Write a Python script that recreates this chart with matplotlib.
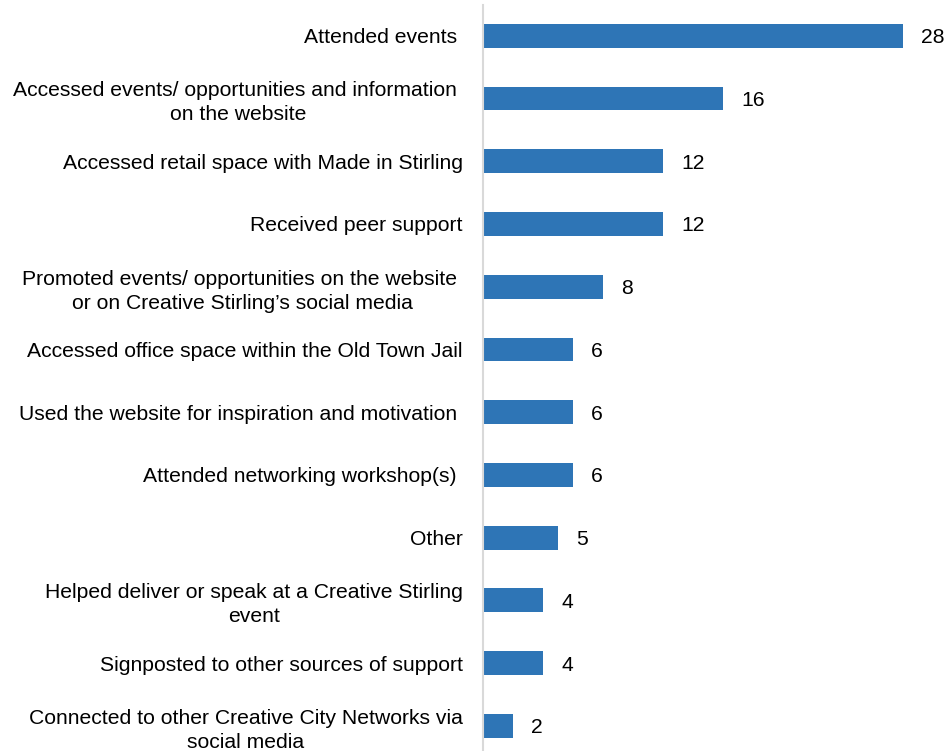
import matplotlib
matplotlib.use("Agg")
import matplotlib.pyplot as plt

categories = [
    "Attended events ",
    "Accessed events/ opportunities and information \non the website",
    "Accessed retail space with Made in Stirling",
    "Received peer support",
    "Promoted events/ opportunities on the website \nor on Creative Stirling\u2019s social media",
    "Accessed office space within the Old Town Jail",
    "Used the website for inspiration and motivation ",
    "Attended networking workshop(s) ",
    "Other",
    "Helped deliver or speak at a Creative Stirling\nevent",
    "Signposted to other sources of support",
    "Connected to other Creative City Networks via\nsocial media",
]
counts = [28, 16, 12, 12, 8, 6, 6, 6, 5, 4, 4, 2]

plt.rcParams["font.family"] = ["Liberation Sans", "DejaVu Sans"]

W, H, DPI = 946, 751, 100
fig = plt.figure(figsize=(W / DPI, H / DPI), dpi=DPI)
ax = fig.add_axes([483 / W, 0.0, 1 - 483 / W, 1 - 5 / H])

pos = list(range(len(categories)))
bars = ax.barh(pos, counts, height=0.38, color="#2e75b6")

ax.set_xlim(0, (W - 483) / 15)
ax.set_ylim(11.4, -0.49)

ax.set_yticks(pos, categories, fontsize=15.2)
for t in ax.get_yticklabels():
    t.set_multialignment("center")
    t.set_linespacing(1.32)
ax.tick_params(axis="y", length=0, pad=14.5)
ax.set_xticks([])

for s in ["top", "right", "bottom"]:
    ax.spines[s].set_visible(False)
ax.spines["left"].set_color("#d9d9d9")
ax.spines["left"].set_linewidth(1.5)

texts = ax.bar_label(bars, labels=[str(c) for c in counts], padding=13, fontsize=15.2)
for t in texts:
    t.set_va("center_baseline")

fig.savefig("out.png", dpi=DPI)
